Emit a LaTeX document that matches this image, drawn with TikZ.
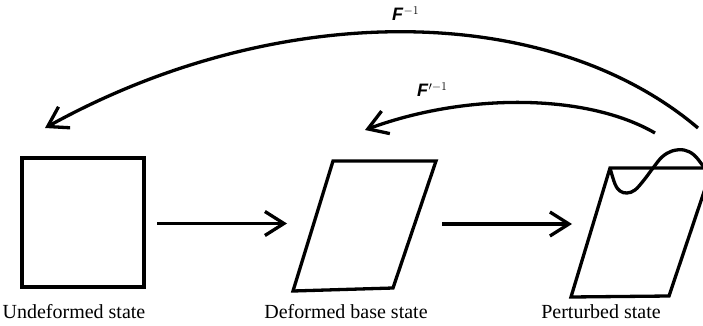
\documentclass[tikz,border=0pt]{standalone}
\usepackage{fontspec}
\setmainfont{Liberation Serif}
\setsansfont{Liberation Sans}
\usetikzlibrary{arrows.meta}
\begin{document}
\begin{tikzpicture}[x=1pt,y=-1pt,
  shapeline/.style={line width=3.3pt, line join=miter},
  arr/.style={line width=3.3pt, -{Straight Barb[length=19pt,width=24pt]}},
  caption/.style={font=\fontsize{20}{24}\selectfont, anchor=base, inner sep=0pt},
  flabel/.style={font=\fontsize{18}{21}\selectfont, anchor=base west, inner sep=0pt}]
\useasboundingbox (0,0) rectangle (703,326);
% shapes
\draw[shapeline] (22,158) rectangle (144,287);
\draw[shapeline] (333,161) -- (436,161) -- (393,288) -- (293,291) -- cycle;
\draw[shapeline] (610,168) -- (712,168) -- (669,296) -- (571,297) -- cycle;
\draw[line width=3.3pt] plot[smooth, tension=0.6] coordinates {(610,168) (615,184) (620,191) (627,193) (635,190) (644,180) (653,168) (662,157) (672,151) (684,150) (694,155) (703,166) (712,180)};
% connector end points
\coordinate (a1s) at (157,223.5);
\coordinate (a1e) at (287,223.5);
\coordinate (a2s) at (442,224);
\coordinate (a2e) at (572,224);
\coordinate (bs) at (698,128);
\coordinate (be) at (45,128);
\coordinate (ss) at (655,133);
\coordinate (se) at (365,130);
\draw[arr] (a1s) -- (a1e);
\draw[arr] (a2s) -- (a2e);
\draw[arr] (bs) .. controls (547,0) and (276,0) .. (be);
\draw[arr] (ss) .. controls (586,93) and (465,93) .. (se);
% labels
\node[flabel] (f1) at (392,21) {\textsf{\textbf{\textit{F}}}$^{-1}$};
\node[flabel] (f2) at (417,97) {\textsf{\textbf{\textit{F}}}$^{\prime-1}$};
\node[caption] (c1) at (74,318) {Undeformed state};
\node[caption] (c2) at (346,318) {Deformed base state};
\node[caption] (c3) at (601,318) {Perturbed state};
\end{tikzpicture}
\end{document}
